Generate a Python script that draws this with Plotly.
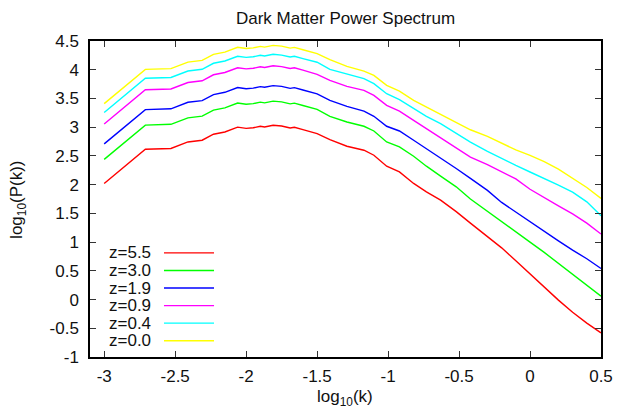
import plotly.graph_objects as go

# ---- data ----
log_k = [-3.0, -2.71, -2.53, -2.41, -2.31, -2.23, -2.15, -2.06, -2.0, -1.95, -1.9, -1.87,
         -1.81, -1.75, -1.69, -1.66, -1.6, -1.5, -1.41, -1.29, -1.17, -1.1, -1.01, -0.92,
         -0.82, -0.73, -0.63, -0.52, -0.42, -0.3, -0.2, -0.1, 0.0, 0.1, 0.2, 0.3, 0.4, 0.5]

p_z55 = [2.02, 2.616, 2.63, 2.743, 2.773, 2.877, 2.917, 3.0, 2.98, 2.99, 3.016, 3.004,
         3.033, 3.02, 2.986, 2.998, 2.958, 2.889, 2.785, 2.668, 2.599, 2.512, 2.321, 2.222,
         2.021, 1.875, 1.73, 1.53, 1.33, 1.1, 0.9, 0.675, 0.446, 0.21, -0.01, -0.22, -0.41, -0.58]
p_z30 = [2.44, 3.036, 3.05, 3.163, 3.193, 3.297, 3.337, 3.42, 3.40, 3.41, 3.436, 3.424,
         3.453, 3.44, 3.406, 3.418, 3.378, 3.31, 3.189, 3.09, 3.016, 2.934, 2.743, 2.656,
         2.495, 2.321, 2.148, 1.962, 1.75, 1.54, 1.36, 1.18, 1.0, 0.82, 0.63, 0.44, 0.25, 0.06]
p_z19 = [2.71, 3.306, 3.32, 3.433, 3.463, 3.567, 3.607, 3.69, 3.67, 3.68, 3.706, 3.694,
         3.723, 3.71, 3.676, 3.688, 3.648, 3.58, 3.467, 3.363, 3.281, 3.189, 3.016, 2.934,
         2.773, 2.628, 2.455, 2.281, 2.11, 1.90, 1.69, 1.52, 1.36, 1.19, 1.02, 0.86, 0.71, 0.54]
p_z09 = [3.055, 3.651, 3.665, 3.778, 3.808, 3.912, 3.952, 4.035, 4.015, 4.025, 4.051, 4.039,
         4.068, 4.055, 4.021, 4.033, 3.993, 3.92, 3.814, 3.71, 3.641, 3.554, 3.38, 3.281,
         3.12, 2.976, 2.83, 2.646, 2.48, 2.35, 2.22, 2.10, 1.92, 1.77, 1.63, 1.49, 1.33, 1.14]
p_z04 = [3.255, 3.851, 3.865, 3.978, 4.008, 4.112, 4.152, 4.235, 4.215, 4.225, 4.251, 4.239,
         4.268, 4.255, 4.221, 4.233, 4.193, 4.13, 4.005, 3.93, 3.844, 3.757, 3.583, 3.479,
         3.323, 3.189, 3.063, 2.889, 2.74, 2.58, 2.455, 2.335, 2.22, 2.11, 1.99, 1.87, 1.70, 1.46]
p_z00 = [3.41, 4.006, 4.02, 4.133, 4.163, 4.267, 4.307, 4.39, 4.37, 4.38, 4.406, 4.394,
         4.423, 4.41, 4.376, 4.388, 4.348, 4.28, 4.174, 4.057, 3.976, 3.901, 3.727, 3.629,
         3.467, 3.351, 3.236, 3.091, 2.955, 2.84, 2.72, 2.605, 2.51, 2.40, 2.27, 2.11, 1.95, 1.76]

series_names = ["z=5.5", "z=3.0", "z=1.9", "z=0.9", "z=0.4", "z=0.0"]
series_values = [p_z55, p_z30, p_z19, p_z09, p_z04, p_z00]
series_colors = ["#ff0000", "#00ff00", "#0000ff", "#ff00ff", "#00ffff", "#ffff00"]

x_tick_vals = [-3, -2.5, -2, -1.5, -1, -0.5, 0, 0.5]
x_tick_text = ["-3", "-2.5", "-2", "-1.5", "-1", "-0.5", "0", "0.5"]
y_tick_vals = [-1, -0.5, 0, 0.5, 1, 1.5, 2, 2.5, 3, 3.5, 4, 4.5]
y_tick_text = ["-1", "-0.5", "0", "0.5", "1", "1.5", "2", "2.5", "3", "3.5", "4", "4.5"]

FONT = "Liberation Sans, Arial, Helvetica, sans-serif"
FS = 17

fig = go.Figure()
for name, vals, col in zip(series_names, series_values, series_colors):
    fig.add_trace(go.Scatter(x=log_k, y=vals, mode="lines", name=name,
                             line=dict(color=col, width=1.4), showlegend=False))

# gnuplot-style key: text right-justified, sample line to the right
annotations = []
shapes = []
row_y0 = 0.3295
row_dy = 0.0556
for i, (name, col) in enumerate(zip(series_names, series_colors)):
    yy = row_y0 - i * row_dy
    annotations.append(dict(x=0.123, y=yy, xref="paper", yref="paper", text=name,
                            showarrow=False, xanchor="right", yanchor="middle",
                            font=dict(family=FONT, size=FS, color="#111")))
    shapes.append(dict(type="line", xref="paper", yref="paper", x0=0.1448, x1=0.2427,
                       y0=yy, y1=yy, line=dict(color=col, width=1.4)))

annotations.append(dict(x=0.499, y=-0.13, xref="paper", yref="paper",
                        text="log<sub>10</sub>(k)", showarrow=False,
                        xanchor="center", yanchor="middle",
                        font=dict(family=FONT, size=FS, color="#111")))
annotations.append(dict(x=-0.141, y=0.497, xref="paper", yref="paper",
                        text="log<sub>10</sub>(P(k))", showarrow=False, textangle=-90,
                        xanchor="center", yanchor="middle",
                        font=dict(family=FONT, size=FS, color="#111")))

axis_common = dict(showgrid=False, zeroline=False, showline=True, linecolor="#000",
                   linewidth=1.5, mirror="ticks", ticks="inside", ticklen=6,
                   tickcolor="#333", tickwidth=1,
                   tickfont=dict(family=FONT, size=FS, color="#111"))

fig.update_layout(
    width=617, height=411,
    margin=dict(l=90, r=16, t=41, b=54, autoexpand=False),
    paper_bgcolor="white", plot_bgcolor="white",
    title=dict(text="Dark Matter Power Spectrum", x=0.5, xref="paper",
               y=1 - 18 / 411, yanchor="middle",
               font=dict(family=FONT, size=FS, color="#111")),
    xaxis=dict(range=[-3.1, 0.5], tickvals=x_tick_vals, ticktext=x_tick_text,
               ticklabelstandoff=3, **axis_common),
    yaxis=dict(range=[-1, 4.5], tickvals=y_tick_vals, ticktext=y_tick_text,
               ticklabelstandoff=6, **axis_common),
    annotations=annotations,
    shapes=shapes,
    showlegend=False,
)

fig.write_html("out.html", config={"displayModeBar": False},
               post_script="document.body.style.margin='0';")
